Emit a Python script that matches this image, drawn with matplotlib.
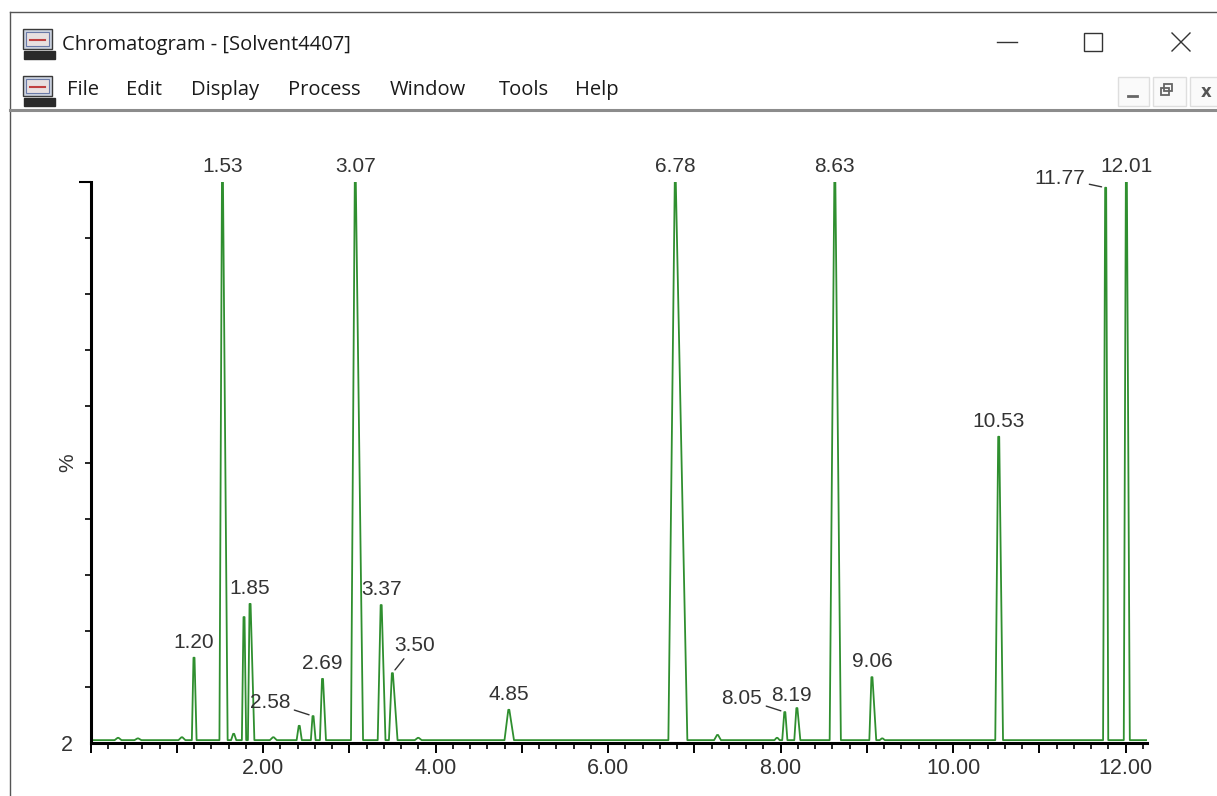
import matplotlib
matplotlib.use("Agg")
import matplotlib.pyplot as plt
import numpy as np
from matplotlib.patches import Rectangle
from matplotlib.ticker import MultipleLocator, FixedLocator, FuncFormatter

W, H = 1217, 796

# peaks: retention time (min), apex height (%), foot widths (min)
peak_rt = [0.32, 0.55, 1.06, 1.20, 1.53, 1.66, 1.78, 1.85, 2.12, 2.42, 2.58, 2.69,
           3.07, 3.37, 3.50, 3.80, 4.85, 6.78, 7.27, 7.96, 8.05, 8.19, 8.63, 9.06,
           9.18, 10.53, 11.77, 12.01]
peak_pct = [2.9, 2.8, 3.0, 16.9, 100, 3.6, 24.0, 26.3, 3.0, 5.0, 6.7, 13.2,
            100, 26.1, 14.2, 2.9, 7.8, 100, 3.4, 2.9, 7.4, 8.1, 100, 13.5,
            2.8, 55.5, 99.0, 100]
peak_left = [0.04, 0.04, 0.04, 0.025, 0.035, 0.03, 0.025, 0.025, 0.04, 0.03, 0.025, 0.03,
             0.05, 0.04, 0.04, 0.04, 0.05, 0.08, 0.04, 0.03, 0.03, 0.03, 0.06, 0.03,
             0.03, 0.04, 0.03, 0.03]
peak_right = [0.04, 0.04, 0.04, 0.03, 0.06, 0.03, 0.025, 0.05, 0.04, 0.03, 0.03, 0.04,
              0.09, 0.05, 0.06, 0.04, 0.06, 0.14, 0.04, 0.03, 0.03, 0.04, 0.07, 0.05,
              0.03, 0.05, 0.03, 0.04]
baseline = 2.5

# labelled peaks
label_rt = [1.20, 1.53, 1.85, 2.58, 2.69, 3.07, 3.37, 3.50, 4.85, 6.78,
            8.05, 8.19, 8.63, 9.06, 10.53, 11.77, 12.01]
# labels pushed aside with a leader line (offset in points)
leader = {2.58: (-31, 10), 3.50: (16, 20), 8.05: (-31, 10), 11.77: (-33, 7)}
shifted = {8.19: (-4, 9), 12.01: (0, 11)}

# build the trace polyline from the peak table
xs, ys = [0.02], [baseline]
for rt, h, wl, wr in sorted(zip(peak_rt, peak_pct, peak_left, peak_right)):
    xs += [rt - wl, rt - 0.006, rt + 0.006, rt + wr]
    ys += [baseline, h, h, baseline]
xs.append(12.24)
ys.append(baseline)

fig = plt.figure(figsize=(W / 100, H / 100), dpi=100)
fig.patch.set_facecolor("white")

# ---- window chrome ----
ch = fig.add_axes([0, 0, 1, 1])
ch.set_xlim(0, W)
ch.set_ylim(H, 0)
ch.axis("off")
ui = "Open Sans"
ch.plot([10, W], [12, 12], color="#555555", lw=1)
ch.plot([10, 10], [12, H], color="#555555", lw=1)
ch.plot([10, W], [110, 110], color="#8c8c8c", lw=2.2)


def icon(y0):
    ch.add_patch(Rectangle((23, y0), 29, 20, facecolor="#cdd3e0", edgecolor="#3a3a3a", lw=1))
    ch.add_patch(Rectangle((26, y0 + 3), 23, 14, facecolor="#e8e0e0", edgecolor="#6a7aa8", lw=0.8))
    ch.plot([30, 45], [y0 + 11, y0 + 11], color="#c04040", lw=1.5)
    ch.add_patch(Rectangle((24, y0 + 22), 31, 8, facecolor="#2a2a2a", edgecolor="#2a2a2a", lw=1))


icon(29)
icon(76)
ch.text(62, 45, "Chromatogram - [Solvent4407]", fontsize=14.5, family=ui,
        color="#1a1a1a", va="center", ha="left")
menu = ["File", "Edit", "Display", "Process", "Window", "Tools", "Help"]
menu_x = [67, 126, 191, 288, 390, 499, 575]
for m, mx in zip(menu, menu_x):
    ch.text(mx, 90, m, fontsize=14.5, family=ui, color="#1a1a1a", va="center", ha="left")

# title bar buttons
ch.plot([997, 1017], [42, 42], color="#333333", lw=1)
ch.add_patch(Rectangle((1084, 33), 18, 18, facecolor="none", edgecolor="#333333", lw=1))
ch.plot([1172, 1190], [33, 51], color="#333333", lw=1)
ch.plot([1172, 1190], [51, 33], color="#333333", lw=1)
# MDI buttons
for bx, bw in [(1118, 31), (1153, 33), (1190, 30)]:
    ch.add_patch(Rectangle((bx, 77), bw, 29, facecolor="#fafafa", edgecolor="#dedede", lw=1))
ch.plot([1128, 1137], [96, 96], color="#666666", lw=2)
ch.add_patch(Rectangle((1161, 88), 8, 7, facecolor="none", edgecolor="#666666", lw=1.3))
ch.add_patch(Rectangle((1164, 84), 8, 7, facecolor="none", edgecolor="#666666", lw=1.3))
ch.text(1206, 92, "x", fontsize=12, fontweight="bold", family="DejaVu Sans",
        color="#555555", ha="center", va="center")

# ---- chromatogram ----
left, right, top, bot = 90.5, 1147, 182, 743
ax = fig.add_axes([left / W, (H - bot) / H, (right - left) / W, (bot - top) / H])
ax.set_facecolor("none")
ax.plot(xs, ys, color="#2f8f2f", lw=1.3)
ax.set_xlim(0, (right - left) / 86.25)
ax.set_ylim(2, 100)

for s in ["top", "right"]:
    ax.spines[s].set_visible(False)
ax.spines["left"].set_linewidth(2.2)
ax.spines["bottom"].set_linewidth(2.2)

ax.xaxis.set_major_locator(MultipleLocator(1))
ax.xaxis.set_minor_locator(MultipleLocator(0.2))
ax.xaxis.set_major_formatter(FuncFormatter(
    lambda v, p: f"{v:.2f}" if v > 0 and round(v) % 2 == 0 else ""))
ax.tick_params(axis="x", which="major", length=7, width=1.4, pad=4,
               labelsize=15.5, labelcolor="#333333")
ax.tick_params(axis="x", which="minor", length=4, width=1.2)

ax.yaxis.set_major_locator(FixedLocator([2, 100]))
ax.yaxis.set_minor_locator(FixedLocator(np.linspace(2, 100, 11)[1:-1]))
ax.set_yticklabels(["2", ""])
ax.tick_params(axis="y", which="major", length=8.5, width=1.5, pad=4,
               labelsize=15.5, labelcolor="#333333")
ax.tick_params(axis="y", which="minor", length=4, width=1.2)
ax.yaxis.get_major_ticks()[0].tick1line.set_visible(False)
for t in ax.get_xticklabels() + ax.get_yticklabels():
    t.set_family("Liberation Sans")
ax.text(-0.022, 0.5, "%", rotation=90, transform=ax.transAxes, ha="center", va="center",
        fontsize=15, family="Liberation Sans", color="#333333")

for rt in label_rt:
    h = min(peak_pct[peak_rt.index(rt)], 100)
    txt = f"{rt:.2f}"
    if rt in leader:
        ax.annotate(txt, xy=(rt, h), xytext=leader[rt], textcoords="offset points",
                    ha="center", va="center", fontsize=15, family="Liberation Sans",
                    color="#333333", annotation_clip=False,
                    arrowprops=dict(arrowstyle="-", color="#333333", lw=1,
                                    shrinkA=1, shrinkB=3))
    else:
        off = shifted.get(rt, (0, 11))
        ax.annotate(txt, xy=(rt, h), xytext=off, textcoords="offset points",
                    ha="center", va="center", fontsize=15, family="Liberation Sans",
                    color="#333333", annotation_clip=False)

fig.savefig("out.png", dpi=100)
